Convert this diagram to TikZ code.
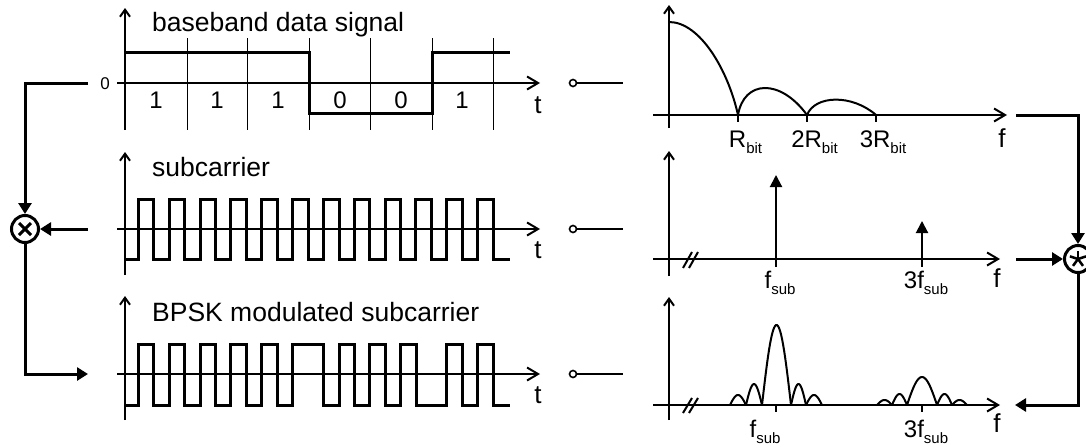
\documentclass[tikz,border=0pt]{standalone}
\usepackage{fontspec}
\setmainfont{Liberation Sans}
\usetikzlibrary{arrows.meta}
\newcommand\mysub[1]{\raisebox{-6pt}{\fontsize{15}{15}\selectfont #1}}
\begin{document}
\begin{tikzpicture}[x=1pt,y=-1pt,
  sig/.style={line width=3pt},
  axisl/.style={line width=2pt},
  harr/.style={axisl,-{Straight Barb[length=11pt,width=13pt]}},
  varr/.style={axisl,-{Straight Barb[length=7pt,width=10pt]}},
  gridl/.style={line width=1pt},
  conn/.style={line width=3pt,-{Triangle[length=11pt,width=13pt]}},
  conn0/.style={line width=3pt},
  opnode/.style={circle,draw,line width=3pt,minimum size=27pt,inner sep=0pt},
  tsym/.style={circle,draw,line width=1.6pt,minimum size=7pt,inner sep=0pt},
  tline/.style={line width=2pt},
  ttl/.style={anchor=base west,inner sep=0pt,font=\fontsize{26.5}{30}\selectfont},
  lbl/.style={anchor=base,inner sep=0pt,font=\fontsize{24}{28}\selectfont},
  axlbl/.style={anchor=base,inner sep=0pt,font=\fontsize{26}{30}\selectfont},
  imp/.style={line width=2pt,-{Triangle[length=12pt,width=12pt]}},
  lobe/.style={line width=2pt}]
\clip (0,0) rectangle (1086,447);
\fill[white] (0,0) rectangle (1086,447);

% ================= LEFT: time domain =================
% --- baseband data signal
\foreach \x in {187,247,309,370,432,493} \draw[gridl] (\x,38) -- (\x,130);
\draw[harr] (117,83) -- (540,83);
\draw[varr] (125,130) -- (125,8);
\node[ttl] (t1) at (152,31) {baseband data signal};
\node[inner sep=0pt,font=\fontsize{17}{20}\selectfont] (zero) at (105,84) {0};
\draw[sig] (125,52) -- (309,52) -- (309,113) -- (432,113) -- (432,52) -- (510,52);
\foreach \x/\b [count=\i] in {156/1,217/1,278/1,340/0,401/0,462/1}
  \node[lbl] (bit\i) at (\x,108) {\b};
\node[axlbl] (tt1) at (538,113) {t};

% --- subcarrier
\draw[harr] (117,229) -- (540,229);
\draw[varr] (125,275) -- (125,152);
\node[ttl] (t2) at (152,176) {subcarrier};
\draw[sig] (125,259)
  \foreach \k in {0,...,11}{
    -- ({138.3+30.85*\k},259) -- ({138.3+30.85*\k},199)
    -- ({153.9+30.85*\k},199) -- ({153.9+30.85*\k},259)}
  -- (510,259);
\node[axlbl] (tt2) at (538,258) {t};

% --- BPSK modulated subcarrier
\draw[harr] (117,374) -- (540,374);
\draw[varr] (125,420) -- (125,296);
\node[ttl] (t3) at (152,321) {BPSK modulated subcarrier};
\draw[sig] (125,405)
  \foreach \r/\f in {138.3/153.9,169.2/184.8,200/215.6,230.9/246.5,261.7/277.3,
                     292.6/323.4,339/354.3,369.9/385.1,400.7/416,446.8/462.4,477.7/493.3}{
    -- (\r,405) -- (\r,344) -- (\f,344) -- (\f,405)}
  -- (510,405);
\node[axlbl] (tt3) at (538,403) {t};

% --- multiplier
\node[opnode] (mul) at (25,229) {};
\draw[line width=3pt] (19,223) -- (31,235) (31,223) -- (19,235);
\coordinate (inA) at (88,83);
\coordinate (inAc) at (25,83);
\coordinate (inB) at (88,229);
\coordinate (outC) at (88,374);
\coordinate (outCc) at (25,374);
\draw[conn] (inA) -- (inAc) -- (mul.north);
\draw[conn] (inB) -- (mul.east);
\draw[conn] (mul.south) -- (outCc) -- (outC);

% --- transform symbols
\foreach \y/\n in {83/1,229/2,374/3}{
  \node[tsym] (ts\n) at (573,\y) {};
  \coordinate (te\n) at (623,\y);
  \draw[tline] (ts\n) -- (te\n);
}

% ================= RIGHT: frequency domain =================
% --- top spectrum
\draw[harr] (653,115) -- (1007,115);
\draw[varr] (669,128) -- (669,5);
\foreach \x in {738,807,876} \draw[axisl] (\x,115) -- (\x,122);
\draw[lobe] (669,22) .. controls (700,22) and (728,70) .. (738,115);
\draw[lobe] (738,115) .. controls (744,80) and (780,78) .. (807,115);
\draw[lobe] (807,115) .. controls (815,95) and (852,94) .. (876,115);
\node[lbl] (r1) at (745.5,147) {R\mysub{bit}};
\node[lbl] (r2) at (814.5,147) {2R\mysub{bit}};
\node[lbl] (r3) at (883,147) {3R\mysub{bit}};
\node[axlbl] (f1) at (1002,147) {f};

% --- middle spectrum
\draw[harr] (653,259) -- (1000,259);
\draw[varr] (669,276) -- (669,151);
\draw[axisl] (683,268) -- (692,252) (689,268) -- (698,252);
\draw[axisl] (776,259) -- (776,267) (922,259) -- (922,267);
\draw[imp] (776,259) -- (776,175);
\draw[imp] (922,259) -- (922,221);
\node[lbl] (s1) at (780,288) {f\mysub{sub}};
\node[lbl] (s2) at (926,288) {3f\mysub{sub}};
\node[axlbl] (f2) at (997,287) {f};

% --- bottom spectrum
\draw[harr] (653,405) -- (1000,405);
\draw[varr] (669,420) -- (669,297);
\draw[axisl] (683,413) -- (692,398) (689,413) -- (698,398);
\draw[axisl] (776,405) -- (776,412) (922,405) -- (922,412);
\foreach \a/\b/\h in {730/746/10,746/762/21,762/791/80,791/806/21,806/822/10,
                      877/892/5,892/907/11,907/937/28,937/952/11,952/967/5}
  \draw[lobe] plot[domain=0:180,samples=30] ({\a+(\b-\a)*\x/180},{405-\h*sin(\x)});
\node[lbl] (s3) at (765,437) {f\mysub{sub}};
\node[lbl] (s4) at (926,437) {3f\mysub{sub}};
\node[axlbl] (f3) at (997,432) {f};

% --- convolution
\node[opnode] (conv) at (1078,259) {};
\foreach \a in {-90,-18,-162,54,126}
  \draw[line width=2.5pt] (1078,259) -- ++(\a:8.5);
\coordinate (cA) at (1016,115);
\coordinate (cAc) at (1078,115);
\coordinate (cB) at (1016,259);
\coordinate (cC) at (1015,405);
\coordinate (cCc) at (1078,405);
\draw[conn] (cA) -- (cAc) -- (conv.north);
\draw[conn] (cB) -- (conv.west);
\draw[conn] (conv.south) -- (cCc) -- (cC);
\end{tikzpicture}
\end{document}
